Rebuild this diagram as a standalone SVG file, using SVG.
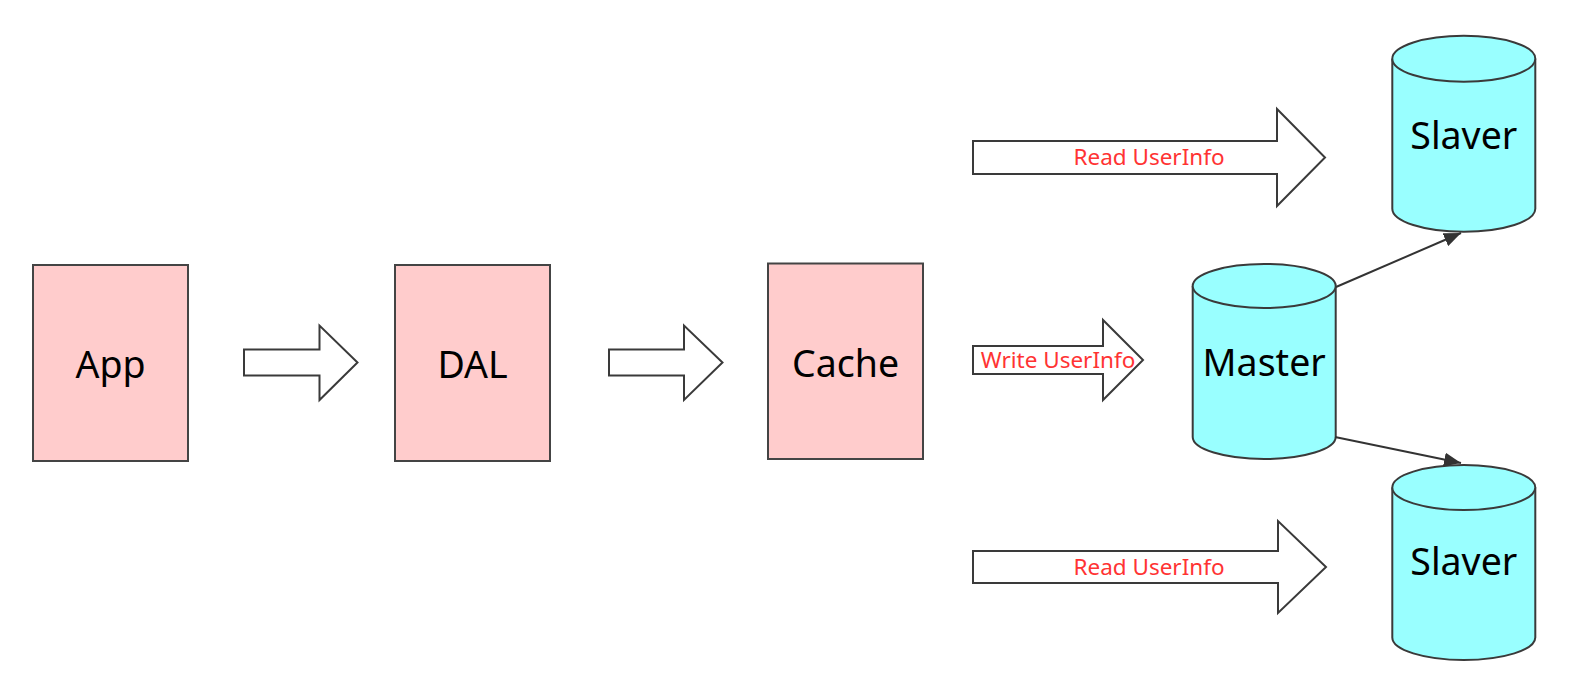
<svg xmlns="http://www.w3.org/2000/svg" width="1595" height="682" viewBox="0 0 1595 682">
<style>
.box{fill:#FFCCCC;stroke:#444;stroke-width:2}
.db{fill:#99FFFF;stroke:#3a3a3a;stroke-width:2}
.blk{fill:#fff;stroke:#3a3a3a;stroke-width:2;stroke-linejoin:miter}
.lbl{font-family:"Noto Sans","Liberation Sans",sans-serif;font-size:37.5px;fill:#000;text-anchor:middle}
.red{font-family:"Noto Sans","Liberation Sans",sans-serif;font-size:22.5px;fill:#FF3333;text-anchor:middle}
.con{stroke:#333;stroke-width:2;fill:none}
</style>
<defs>
<marker id="ah" markerUnits="userSpaceOnUse" markerWidth="18" markerHeight="14" refX="17" refY="7" orient="auto">
<path d="M0,0 L17,7 L0,14 Z" fill="#333"/>
</marker>
</defs>
<rect width="1595" height="682" fill="#fff"/>
<g id="app"><rect class="box" x="33" y="265" width="155" height="196"/><text class="lbl" x="110.5" y="377.5">App</text></g>
<g id="dal"><rect class="box" x="395" y="265" width="155" height="196"/><text class="lbl" x="472.5" y="377.5">DAL</text></g>
<g id="cache"><rect class="box" x="768" y="263.5" width="155" height="195.5"/><text class="lbl" x="845.5" y="376.5">Cache</text></g>
<g id="master">
<path class="db" d="M1192.7,286 V437 A71.5,22 0 0 0 1335.7,437 V286"/>
<ellipse class="db" cx="1264.2" cy="286" rx="71.5" ry="22"/>
<text class="lbl" x="1264.2" y="376">Master</text>
</g>
<g id="slaver1">
<path class="db" d="M1392.3,58.7 V208.7 A71.5,23 0 0 0 1535.3,208.7 V58.7"/>
<ellipse class="db" cx="1463.8" cy="58.7" rx="71.5" ry="23"/>
<text class="lbl" x="1463.8" y="149">Slaver</text>
</g>
<g id="slaver2">
<path class="db" d="M1392.3,487.5 V637.5 A71.5,22.5 0 0 0 1535.3,637.5 V487.5"/>
<ellipse class="db" cx="1463.8" cy="487.5" rx="71.5" ry="22.5"/>
<text class="lbl" x="1463.8" y="575">Slaver</text>
</g>
<g id="connectors">
<polygon class="blk" points="244,349.5 319.5,349.5 319.5,325.5 357.5,362.5 319.5,400 319.5,375.5 244,375.5"/>
<polygon class="blk" points="609,349.5 684,349.5 684,325.5 722.5,362.5 684,400 684,375.5 609,375.5"/>
<polygon class="blk" points="973,346 1103,346 1103,320 1143,360 1103,400 1103,374 973,374"/>
<text class="red" x="1058" y="368">Write UserInfo</text>
<polygon class="blk" points="973,141 1277,141 1277,109 1325,157.5 1277,206 1277,174 973,174"/>
<text class="red" x="1149" y="165">Read UserInfo</text>
<polygon class="blk" points="973,551 1278,551 1278,521 1326,567 1278,613 1278,583 973,583"/>
<text class="red" x="1149" y="574.5">Read UserInfo</text>
<line class="con" x1="1336" y1="287" x2="1461" y2="233" marker-end="url(#ah)"/>
<line class="con" x1="1335" y1="437" x2="1461" y2="463" marker-end="url(#ah)"/>
</g>
</svg>
